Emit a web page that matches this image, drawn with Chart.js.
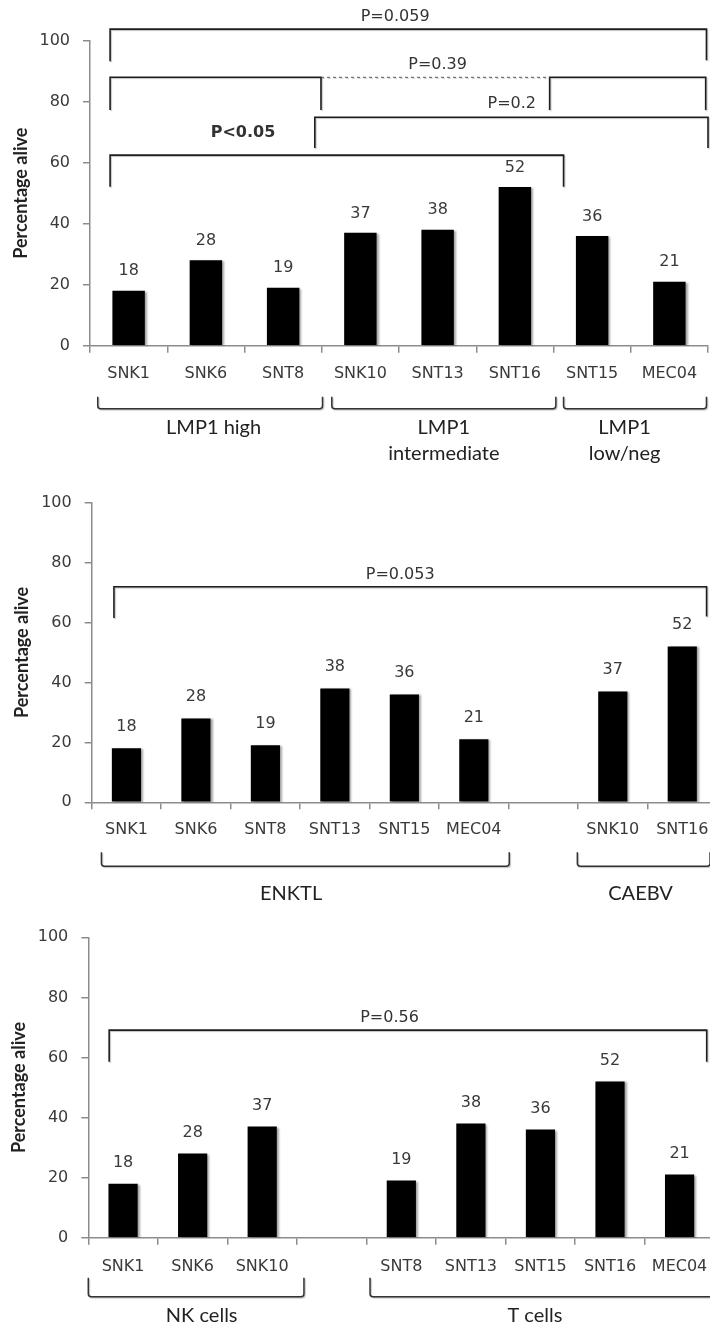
<!DOCTYPE html>
<html>
<head>
<meta charset="utf-8">
<script src="https://cdn.jsdelivr.net/npm/chart.js@4.4.1/dist/chart.umd.min.js"></script>
<style>
  html, body { margin: 0; padding: 0; background: #fff; width: 710px; height: 1329px; overflow: hidden; }
  .panel { position: absolute; left: 0; }
</style>
</head>
<body>
<div class="panel" style="top:0;width:710px;height:480px"><canvas id="lmpChart"></canvas></div>
<div class="panel" style="top:480px;width:720px;height:430px"><canvas id="diseaseChart"></canvas></div>
<div class="panel" style="top:910px;width:720px;height:419px"><canvas id="lineageChart"></canvas></div>
<script>
// LMP1 expression panel
const lmpLabels = ["SNK1", "SNK6", "SNT8", "SNK10", "SNT13", "SNT16", "SNT15", "MEC04"]
const lmpValues = [18, 28, 19, 37, 38, 52, 36, 21]
const lmpGroups = [
  { from: -0.40, to: 2.51, at: 1.10, text: ["LMP1 high"] },
  { from: 2.63, to: 5.53, at: 4.08, text: ["LMP1", "intermediate"] },
  { from: 5.63, to: 7.48, at: 6.42, text: ["LMP1", "low/neg"] }
]
const lmpBrackets = [
  { from: -0.24, to: 7.48, top: 103.8, foot: [93.3, 93.6], label: "P=0.059", lx: 3.45, ly: 107.8 },
  { from: -0.24, to: 7.47, top: 88.0, foot: [77.3, 77.3], split: [2.49, 5.45], label: "P=0.39", lx: 4.0, ly: 92.0 },
  { from: 2.41, to: 7.50, top: 74.9, foot: [64.8, 64.8], label: "P=0.2", lx: 4.96, ly: 79.2 },
  { from: -0.24, to: 5.63, top: 62.5, foot: [52.1, 52.1], label: "P<0.05", lx: 1.48, ly: 69.7, bold: true }
]

// ENKTL vs CAEBV panel (blank slot between the groups)
const diseaseLabels = ["SNK1", "SNK6", "SNT8", "SNT13", "SNT15", "MEC04", "", "SNK10", "SNT16"]
const diseaseValues = [18, 28, 19, 38, 36, 21, null, 37, 52]
const diseaseGroups = [
  { from: -0.36, to: 5.51, at: 2.37, text: ["ENKTL"] },
  { from: 6.49, to: 8.40, at: 7.40, text: ["CAEBV"] }
]
const diseaseBrackets = [
  { from: -0.18, to: 8.35, top: 71.9, foot: [61.5, 62.0], label: "P=0.053", lx: 3.94, ly: 75.8 }
]

// NK vs T cell panel
const lineageLabels = ["SNK1", "SNK6", "SNK10", "", "SNT8", "SNT13", "SNT15", "SNT16", "MEC04"]
const lineageValues = [18, 28, 37, null, 19, 38, 36, 52, 21]
const lineageGroups = [
  { from: -0.50, to: 2.60, at: 1.13, text: ["NK cells"] },
  { from: 3.55, to: 8.70, at: 5.92, text: ["T cells"] }
]
const lineageBrackets = [
  { from: -0.20, to: 8.39, top: 69.1, foot: [58.6, 58.6], label: "P=0.56", lx: 3.83, ly: 73.3 }
]

const tickFont = { family: "DejaVu Sans", size: 16 }
const ink = "#3a3a3a"
const axisGrey = "#8c8c8c"

function annotations(groups, brackets, lay) {
  return {
    id: "annotations",
    beforeDatasetsDraw(chart) {
      // soft drop shadow under the bars
      const ctx = chart.ctx
      ctx.save()
      ctx.shadowColor = "rgba(0,0,0,0.35)"
      ctx.shadowOffsetX = 2
      ctx.shadowOffsetY = 1
      ctx.shadowBlur = 2
    },
    afterDatasetsDraw(chart) {
      const ctx = chart.ctx
      ctx.restore()
      const values = chart.data.datasets[0].data
      ctx.save()
      ctx.font = '16px "DejaVu Sans"'
      ctx.fillStyle = ink
      ctx.textAlign = "center"
      ctx.textBaseline = "middle"
      chart.getDatasetMeta(0).data.forEach((bar, i) => {
        if (values[i] == null) return
        ctx.fillText(String(values[i]), bar.x, bar.y - lay.valueGap)
      })
      ctx.restore()
    },
    afterDraw(chart) {
      const ctx = chart.ctx
      const xs = chart.scales.x
      const ys = chart.scales.y
      const px = v => xs.getPixelForValue(v)
      const py = v => ys.getPixelForValue(v)
      ctx.save()
      ctx.shadowColor = "rgba(0,0,0,0.25)"
      ctx.shadowOffsetX = 1
      ctx.shadowOffsetY = 1
      ctx.shadowBlur = 1
      ctx.lineWidth = 1.6
      ctx.strokeStyle = "#1e1e1e"

      brackets.forEach(b => {
        const xl = px(b.from), xr = px(b.to), yt = py(b.top)
        const fl = py(b.foot[0]), fr = py(b.foot[1])
        ctx.setLineDash([])
        ctx.beginPath()
        if (b.split) {
          const a = px(b.split[0]), c = px(b.split[1])
          ctx.moveTo(xl, fl); ctx.lineTo(xl, yt); ctx.lineTo(a, yt); ctx.lineTo(a, fl)
          ctx.moveTo(c, fr); ctx.lineTo(c, yt); ctx.lineTo(xr, yt); ctx.lineTo(xr, fr)
          ctx.stroke()
          ctx.save()
          ctx.lineWidth = 1
          ctx.strokeStyle = "#555"
          ctx.setLineDash([3, 3])
          ctx.beginPath()
          ctx.moveTo(a, yt); ctx.lineTo(c, yt)
          ctx.stroke()
          ctx.restore()
        } else {
          ctx.moveTo(xl, fl); ctx.lineTo(xl, yt); ctx.lineTo(xr, yt); ctx.lineTo(xr, fr)
          ctx.stroke()
        }
      })

      // group braces under the category labels
      const base = chart.chartArea.bottom
      ctx.strokeStyle = "#333"
      ctx.lineWidth = 1.5
      groups.forEach(g => {
        const xl = px(g.from), xr = px(g.to)
        const t = base + lay.braceTop, b = base + lay.braceBottom, r = 3
        ctx.beginPath()
        ctx.moveTo(xl, t)
        ctx.arcTo(xl, b, xl + r, b, r)
        ctx.arcTo(xr, b, xr, b - r, r)
        ctx.lineTo(xr, t)
        ctx.stroke()
      })
      ctx.restore()

      ctx.save()
      ctx.fillStyle = "#333"
      ctx.textAlign = "center"
      ctx.textBaseline = "middle"
      brackets.forEach(b => {
        ctx.font = (b.bold ? "bold " : "") + '16px "DejaVu Sans"'
        ctx.fillText(b.label, px(b.lx), py(b.ly))
      })
      ctx.fillStyle = "#222"
      ctx.font = '20px Lato'
      groups.forEach(g => {
        g.text.forEach((line, k) => {
          ctx.fillText(line, px(g.at), base + lay.groupText + k * lay.lineGap)
        })
      })
      ctx.restore()
    }
  }
}

function buildChart(id, labels, values, groups, brackets, lay) {
  return new Chart(document.getElementById(id), {
    type: "bar",
    data: {
      labels: labels,
      datasets: [{
        data: values,
        backgroundColor: "#000",
        borderWidth: 0,
        barPercentage: 0.42,
        categoryPercentage: 1
      }]
    },
    options: {
      responsive: true,
      maintainAspectRatio: false,
      animation: false,
      layout: { padding: { top: lay.top, right: lay.right, left: 0, bottom: 0 } },
      plugins: { legend: { display: false }, tooltip: { enabled: false } },
      scales: {
        x: {
          grid: { drawOnChartArea: false, tickLength: 7, color: axisGrey, lineWidth: 1.5 },
          border: { color: axisGrey, width: 1.5 },
          ticks: { font: tickFont, color: ink, padding: lay.tickPad, maxRotation: 0, autoSkip: false },
          afterFit: s => { s.height = lay.xHeight }
        },
        y: {
          min: 0,
          max: 100,
          grid: { drawOnChartArea: false, tickLength: 7, color: axisGrey, lineWidth: 1.5 },
          border: { color: axisGrey, width: 1.5 },
          ticks: { stepSize: 20, font: tickFont, color: ink, padding: 13 },
          title: {
            display: true,
            text: "Percentage alive",
            font: { family: "Lato", size: 18, weight: "bold" },
            color: "#222",
            padding: { top: lay.titlePad, bottom: 0 }
          },
          afterFit: s => { s.width = lay.yWidth }
        }
      }
    },
    plugins: [annotations(groups, brackets, lay)]
  })
}

buildChart("lmpChart", lmpLabels, lmpValues, lmpGroups, lmpBrackets, {
  top: 40.7, right: 2, xHeight: 134.3, yWidth: 90, tickPad: 11.7, titlePad: 10.7,
  valueGap: 19.5, braceTop: 51, braceBottom: 63, groupText: 82, lineGap: 26
})
buildChart("diseaseChart", diseaseLabels, diseaseValues, diseaseGroups, diseaseBrackets, {
  top: 19.3, right: 3, xHeight: 107.7, yWidth: 91.7, tickPad: 11, titlePad: 11.7,
  valueGap: 21.5, braceTop: 50, braceBottom: 64, groupText: 91, lineGap: 26
})
buildChart("lineageChart", lineageLabels, lineageValues, lineageGroups, lineageBrackets, {
  top: 27.3, right: 5.4, xHeight: 91.3, yWidth: 88.3, tickPad: 12.4, titlePad: 8.2,
  valueGap: 21, braceTop: 40, braceBottom: 59, groupText: 78, lineGap: 26
})
</script>
</body>
</html>
